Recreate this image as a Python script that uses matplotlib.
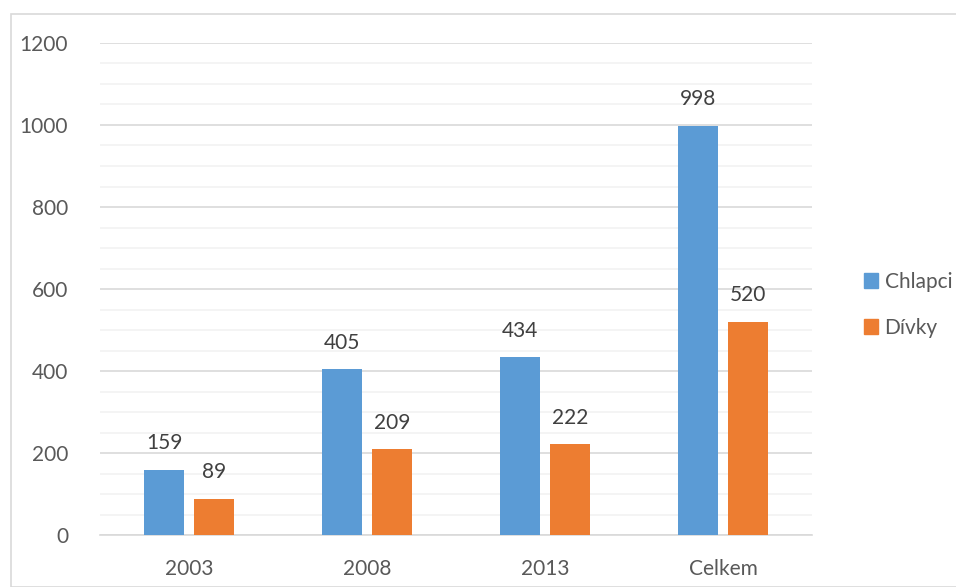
import numpy as np
import matplotlib
matplotlib.use("Agg")
import matplotlib.pyplot as plt
from matplotlib.patches import Rectangle, Patch

categories = ["2003", "2008", "2013", "Celkem"]
chlapci = [159, 405, 434, 998]
divky = [89, 209, 222, 520]

plt.rcParams["font.family"] = ["Lato", "DejaVu Sans"]
TEXT = "#595959"
BLUE = "#5B9BD5"
ORANGE = "#ED7D31"
FS = 15

fig = plt.figure(figsize=(9.56, 5.87), dpi=100)
W, H = 956, 587
ax = fig.add_axes([100 / W, 1 - 535 / H, 712 / W, 492 / H])

# outer chart border
fig.patches.append(Rectangle((11 / W, 0), 2, 1 - 14 / H, transform=fig.transFigure,
                             fill=False, ec="#D9D9D9", lw=1.2))

x = np.arange(len(categories))
bw = 0.225
off = 0.14
ax.bar(x - off, chlapci, bw, color=BLUE, zorder=3)
ax.bar(x + off, divky, bw, color=ORANGE, zorder=3)

for xi, v in zip(x, chlapci):
    ax.text(xi - off, v + 40, str(v), ha="center", va="bottom", fontsize=FS, color="#404040")
for xi, v in zip(x, divky):
    ax.text(xi + off, v + 40, str(v), ha="center", va="bottom", fontsize=FS, color="#404040")

ax.set_xlim(-0.5, 3.5)
ax.set_ylim(0, 1200)
ax.set_yticks(np.arange(0, 1201, 200))
ax.set_yticks(np.arange(0, 1201, 50), minor=True)
ax.grid(axis="y", which="minor", color="#F2F2F2", lw=1.2, zorder=0)
ax.grid(axis="y", which="major", color="#D9D9D9", lw=1.2, zorder=1)
ax.set_xticks(x)
ax.set_xticklabels(categories)
ax.tick_params(axis="both", which="both", length=0, labelsize=FS, colors=TEXT)
ax.tick_params(axis="y", pad=23)
ax.tick_params(axis="x", pad=17)
for s in ["top", "right", "left"]:
    ax.spines[s].set_visible(False)
ax.spines["bottom"].set_color("#D9D9D9")
ax.spines["bottom"].set_linewidth(1.2)

handles = [Patch(color=BLUE, label="Chlapci"), Patch(color=ORANGE, label="Dívky")]
leg = fig.legend(handles=handles, loc="center left", bbox_to_anchor=(845 / W, 1 - 305 / H),
                 frameon=False, fontsize=FS, handlelength=0.7, handleheight=0.7,
                 handletextpad=0.3, labelspacing=1.25)
for t in leg.get_texts():
    t.set_color(TEXT)

fig.savefig("out.png", dpi=100)
